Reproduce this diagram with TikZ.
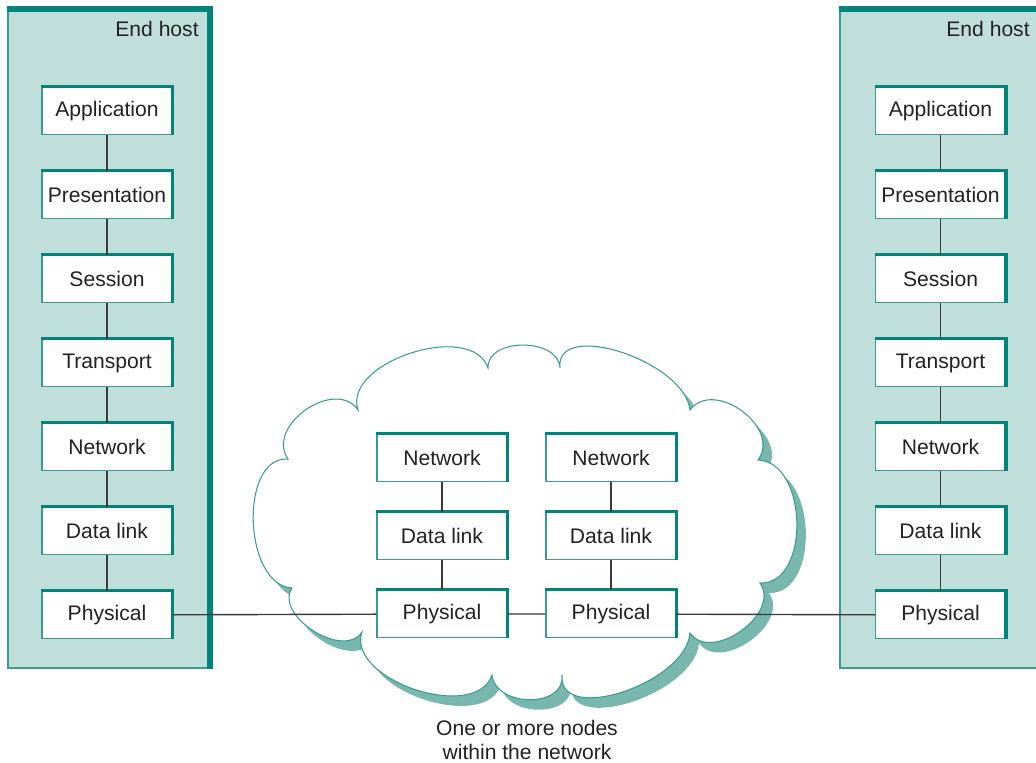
\documentclass[tikz,border=0pt]{standalone}
\usepackage{fontspec}
\setmainfont{Liberation Sans}
\usepackage{tikz}
\usetikzlibrary{calc}
\definecolor{hostfill}{HTML}{C1DFDA}
\definecolor{rimteal}{HTML}{00857A}
\definecolor{edgeteal}{HTML}{3A9C90}
\definecolor{shadeteal}{HTML}{78B7AE}
\definecolor{linkgray}{HTML}{3A3A3A}
\definecolor{textgray}{HTML}{222222}

\tikzset{
  host/.style={fill=hostfill, draw=edgeteal, line width=0.8pt,
    minimum width=4.02cm, minimum height=13.16cm, inner sep=0pt},
  layer/.style={fill=white, draw=edgeteal, line width=0.8pt,
    minimum width=2.6cm, minimum height=0.95cm, inner sep=0pt,
    font=\fontsize{12}{14}\selectfont, text=textgray},
  hostrim/.style={draw=rimteal, line width=3.4pt, line join=miter},
  rim/.style={draw=rimteal, line width=2pt, line join=miter},
  link/.style={draw=linkgray, line width=0.8pt},
  caption/.style={font=\fontsize{12}{13.6}\selectfont, text=textgray,
    align=center, inner sep=0pt},
  cloud/.pic={
    \path[pic actions] (488,368)
      .. controls (486.7,337.4) and (558.7,337.4) .. (560,368)
      .. controls (554.7,318.8) and (684.7,360.8) .. (690,410)
      .. controls (714,378) and (782,428) .. (758,460)
      .. controls (808.5,462) and (810.5,585) .. (760,583)
      .. controls (781.5,613.5) and (711.5,663.5) .. (690,633)
      .. controls (686,683.5) and (558,725.5) .. (562,675)
      .. controls (566,708) and (496,708) .. (492,675)
      .. controls (476,723) and (346,680) .. (362,632)
      .. controls (344,660) and (274,616) .. (292,588)
      .. controls (243,585) and (239,456) .. (288,459)
      .. controls (265,426) and (335,377) .. (358,410)
      .. controls (342,362) and (472,320) .. (488,368) -- cycle;
  }
}

\begin{document}
\begin{tikzpicture}[x=0.02cm, y=-0.02cm]

  \useasboundingbox (0,0) rectangle (1036,763);
  \clip (0,0) rectangle (1036,763);

  % End hosts
  \node[host] (hostL) at (108.5,339) {};
  \node[host] (hostR) at (940.5,339) {};
  \foreach \h in {hostL,hostR} {
    \draw[hostrim] (\h.north west) -- (\h.north east) -- (\h.south east);
  }
  \node[caption, anchor=east] (endL) at (199,29) {End host};
  \node[caption, anchor=east] (endR) at (1030,29) {End host};

  % Network cloud with its shadow
  \pic[fill=shadeteal] at (9,10) {cloud};
  \pic[fill=white, draw=edgeteal, line width=0.6pt] at (0,0) {cloud};

  % Seven layers in each end host
  \foreach \name [count=\i] in {Application,Presentation,Session,Transport,Network,Data link,Physical} {
    \node[layer] (L\i) at (107,{111+84*(\i-1)}) {\name};
    \node[layer] (R\i) at (940.5,{111+84*(\i-1)}) {\name};
  }

  % Lower three layers in the two network nodes
  \foreach \name/\y [count=\i] in {Network/458,Data link/536,Physical/614} {
    \node[layer] (A\i) at (442,\y) {\name};
    \node[layer] (B\i) at (611,\y) {\name};
  }

  % Raised edges
  \foreach \n in {L1,L2,L3,L4,L5,L6,L7,R1,R2,R3,R4,R5,R6,R7,A1,A2,A3,B1,B2,B3} {
    \draw[rim] (\n.north west) -- (\n.north east) -- (\n.south east);
  }

  % Links
  \foreach \i [remember=\i as \p (initially 1)] in {2,...,7} {
    \draw[link] (L\p) -- (L\i);
    \draw[link] (R\p) -- (R\i);
  }
  \foreach \i [remember=\i as \p (initially 1)] in {2,3} {
    \draw[link] (A\p) -- (A\i);
    \draw[link] (B\p) -- (B\i);
  }
  \draw[link] (L7) -- (A3) -- (B3) -- (R7);

  \node[caption] (note) at (527,740) {One or more nodes\\within the network};

\end{tikzpicture}
\end{document}
